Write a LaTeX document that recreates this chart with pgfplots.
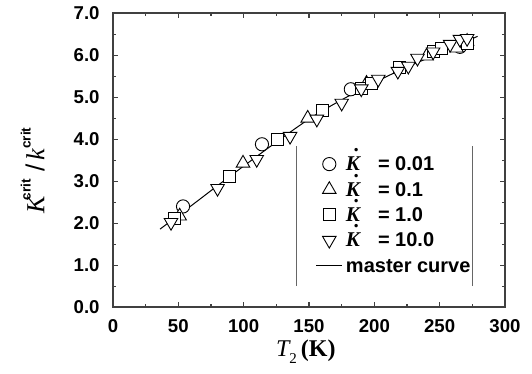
\documentclass[border=0pt]{standalone}
\usepackage{fontspec}
\setmainfont{Liberation Sans}
\newfontfamily\tms{Liberation Serif}
\usepackage{pgfplots}
\pgfplotsset{compat=1.18}
\usetikzlibrary{calc}
\newcommand{\Kdot}{{\tms\itshape\fontsize{10.5}{11}\selectfont\makebox[0pt][l]{\hspace{0.36em}\raisebox{0.9em}{\upshape\bfseries .}}K}\hspace{9pt}}
\begin{document}
\begin{tikzpicture}
\begin{axis}[
  scale only axis,
  width=196pt, height=147pt,
  xmin=0, xmax=300, ymin=0, ymax=7,
  xtick={0,50,...,300}, ytick={0,1,...,7},
  minor x tick num=1, minor y tick num=1,
  tick align=inside,
  major tick length=2.6pt, minor tick length=1.6pt,
  axis line style={black!75, line width=0.8pt},
  every tick/.style={black!75, line width=0.6pt},
  xticklabel style={font=\bfseries\fontsize{9.3}{10}\selectfont, yshift=-2.6pt},
  yticklabel style={font=\bfseries\fontsize{9.3}{10}\selectfont, xshift=-3.2pt},
  /pgf/number format/assume math mode=true,
  xticklabel={\pgfmathprintnumber[fixed]{\tick}},
  yticklabel={\pgfmathprintnumber[fixed,fixed zerofill,precision=1]{\tick}},
  every axis x label/.style={at={(axis description cs:0.492,-0.15)}, anchor=center},
  every axis y label/.style={at={(axis description cs:-0.205,0.465)}, rotate=90, anchor=center},
  xlabel={\fontsize{12}{13}\selectfont{\tms\itshape T}\raisebox{-0.55ex}{\tms\fontsize{7.5}{8}\selectfont 2}\,{\tms\bfseries (K)}},
  ylabel={\fontsize{13}{14}\selectfont{\tms\itshape K}\kern-0.15em\raisebox{1.0ex}{\bfseries\fontsize{6.8}{8}\selectfont crit}\ /\,{\tms\itshape k}\raisebox{1.0ex}{\bfseries\fontsize{6.8}{8}\selectfont crit}},
  legend style={draw=none, fill=none, at={(rel axis cs:0.501,0.545)}, anchor=north west,
    font=\bfseries\fontsize{10}{11}\selectfont, row sep=0pt,
    nodes={text height=8pt, text depth=1.5pt, inner sep=1.6pt}},
  legend cell align=left,
  legend image code/.code={\draw[#1, mark repeat=2, mark phase=2] plot coordinates {(0pt,0pt) (6.5pt,0pt) (13pt,0pt)};},
]
\addplot[black, line width=0.45pt, mark=*, mark options={fill=white, draw=black}, mark size=3.3pt, only marks]
  coordinates {(53.6,2.40) (114,3.88) (182,5.19) (265.5,6.20)};
\addlegendentry{\Kdot= 0.01}
\addplot[black, line width=0.45pt, mark=triangle*, mark options={fill=white, draw=black}, mark size=3.9pt, only marks]
  coordinates {(51,2.17) (99.5,3.43) (149,4.50) (194,5.33) (240,5.98) (263,6.17) (271,6.33)};
\addlegendentry{\Kdot= 0.1}
\addplot[black, line width=0.45pt, mark=square*, mark options={fill=white, draw=black}, mark size=3pt, only marks]
  coordinates {(47.4,2.12) (89.5,3.12) (126,4.0) (160.6,4.68) (190.5,5.22) (198,5.33) (219.6,5.70) (245,6.10) (251.7,6.17) (271,6.29)};
\addlegendentry{\Kdot= 1.0}
\addplot[black, line width=0.45pt, mark=triangle*, mark options={fill=white, draw=black, rotate=180}, mark size=3.9pt, only marks]
  coordinates {(44.4,2.02) (80,2.83) (110,3.52) (135.5,4.07) (156,4.48) (175,4.86) (190,5.2) (203,5.43) (218,5.62) (226,5.74) (233,5.93) (245,6.08) (258,6.26) (265.5,6.38) (271,6.40)};
\addlegendentry{\Kdot= 10.0}
\addplot[black, line width=0.5pt, smooth, no marks]
  coordinates {(36,1.86) (60,2.42) (90,3.13) (128,4.0) (155,4.58) (187,5.14) (220,5.65) (250,6.05) (279,6.45)};
\addlegendentry{master curve}
\draw[black!60, line width=0.5pt] (axis cs:140.8,0.5) -- (axis cs:140.8,3.83);
\draw[black!60, line width=0.5pt] (axis cs:275.5,0.5) -- (axis cs:275.5,3.83);
\end{axis}
\path (current axis.south west) ++(-56.5pt,-33pt) rectangle ($(current axis.north east)+(13.5pt,6pt)$);
\end{tikzpicture}
\end{document}
